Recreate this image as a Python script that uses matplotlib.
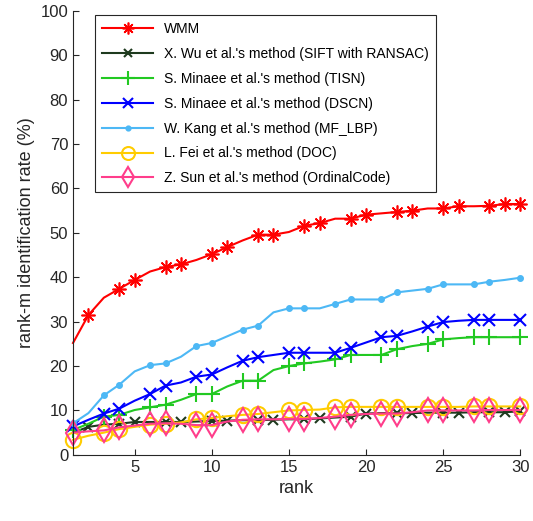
import numpy as np
import matplotlib
matplotlib.use("Agg")
from matplotlib import pyplot as plt
from matplotlib.lines import Line2D

plt.rcParams['font.family'] = ['Liberation Sans', 'DejaVu Sans']

rank = np.arange(1, 31)

wmm = [25.2, 31.5, 35.4, 37.4, 39.4, 41.3, 42.3, 42.9, 43.9, 45.2,
       46.8, 48.3, 49.6, 49.6, 50.2, 51.6, 52.2, 53.2, 53.2, 54.1,
       54.4, 54.7, 55.0, 55.5, 55.5, 56.0, 56.0, 56.1, 56.5, 56.5]
wu = [5.0, 6.3, 6.8, 7.0, 7.4, 7.4, 7.4, 7.4, 7.5, 7.6,
      7.7, 7.8, 7.8, 7.9, 8.0, 8.0, 8.2, 8.4, 8.6, 9.3,
      9.4, 9.4, 9.4, 9.5, 9.5, 9.5, 9.6, 9.6, 9.6, 9.8]
tisn = [5.6, 7.0, 8.6, 9.0, 10.1, 10.7, 11.3, 12.4, 13.7, 13.7,
        15.4, 16.7, 16.7, 19.1, 20.0, 20.6, 21.0, 21.5, 22.5, 22.5,
        22.5, 23.8, 24.5, 25.0, 26.0, 26.3, 26.5, 26.5, 26.5, 26.5]
dscn = [6.4, 7.9, 9.3, 10.4, 12.2, 13.7, 15.6, 16.3, 17.6, 18.1,
        19.7, 21.2, 22.0, 22.5, 23.0, 23.0, 23.0, 23.0, 24.1, 25.3,
        26.5, 26.8, 27.8, 28.9, 29.9, 30.2, 30.4, 30.4, 30.4, 30.4]
mf_lbp = [7.1, 9.4, 13.4, 15.8, 18.8, 20.2, 20.6, 22.1, 24.5, 25.2,
          26.7, 28.2, 29.1, 32.1, 33.0, 33.0, 33.0, 34.0, 35.0, 35.0,
          35.0, 36.6, 37.0, 37.4, 38.4, 38.4, 38.4, 39.0, 39.4, 39.9]
doc = [3.4, 4.3, 5.0, 5.8, 6.3, 6.8, 7.0, 7.3, 8.0, 8.3,
       8.7, 9.0, 9.2, 9.6, 10.0, 10.1, 10.2, 10.7, 10.8, 10.8,
       10.8, 10.8, 10.8, 10.8, 10.8, 10.8, 10.9, 10.9, 10.9, 10.9]
ordinal = [5.0, 5.3, 5.5, 6.2, 6.6, 7.0, 7.1, 7.0, 6.7, 6.7,
           7.5, 7.9, 8.0, 8.0, 8.1, 8.1, 8.3, 8.6, 9.0, 9.2,
           9.3, 9.3, 9.6, 10.0, 10.0, 10.0, 10.0, 10.1, 10.1, 10.1]

labels = ["WMM",
          "X. Wu et al.'s method (SIFT with RANSAC)",
          "S. Minaee et al.'s method (TISN)",
          "S. Minaee et al.'s method (DSCN)",
          "W. Kang et al.'s method (MF_LBP)",
          "L. Fei et al.'s method (DOC)",
          "Z. Sun et al.'s method (OrdinalCode)"]

# ranks where a marker is drawn
mk_a = [2, 4, 5, 7, 8, 10, 11, 13, 14, 16, 17, 19, 20, 22, 23, 25, 26, 28, 29, 30]
mk_b = [1, 3, 4, 6, 7, 9, 10, 12, 13, 15, 16, 18, 19, 21, 22, 24, 25, 27, 28, 30]

fig = plt.figure(figsize=(5.33, 5.21), dpi=100)
ax = fig.add_axes([0.137, 0.127, 0.839, 0.852])

asterisk = (8, 2, 0)
series = [
    (wmm, '#ff0000', asterisk, 10, 1.2, mk_a, 'none'),
    (wu, '#1e3a1e', 'x', 7, 1.5, mk_a, 'none'),
    (tisn, '#22c922', '+', 12, 1.5, mk_b, 'none'),
    (dscn, '#0000ff', 'x', 9, 1.5, mk_b, 'none'),
    (mf_lbp, '#4db8f5', '.', 7, 1.5, mk_b, None),
    (doc, '#ffcc00', 'o', 11, 1.5, mk_b, 'none'),
    (ordinal, '#ff3d8b', 'd', 12, 1.5, mk_b, 'none'),
]
handles = []
for (vals, c, m, ms, mew, mk, fc), lab in zip(series, labels):
    idx = [r - 1 for r in mk]
    kw = dict(color=c, marker=m, markersize=ms, lw=1.5, markeredgewidth=mew)
    if fc is not None:
        kw['markerfacecolor'] = fc
    ax.plot(rank, vals, markevery=idx, clip_on=False, **kw)
    kw['markersize'] = ms * 0.85
    handles.append(Line2D([], [], label=lab, **kw))

ax.set_xlim(1, 30)
ax.set_ylim(0, 100)
ax.set_xticks([5, 10, 15, 20, 25, 30])
ax.set_yticks(np.arange(0, 101, 10))
ax.spines['top'].set_visible(False)
ax.spines['right'].set_visible(False)
for s in ['left', 'bottom']:
    ax.spines[s].set_color('#262626')
ax.tick_params(direction='in', length=4, labelsize=12, colors='#262626')
ax.set_xlabel('rank', fontsize=13, color='#262626')
ax.set_ylabel('rank-m identification rate (%)', fontsize=13, color='#262626')

leg = ax.legend(handles=handles, loc='upper left', bbox_to_anchor=(0.049, 0.99),
                fontsize=10, handlelength=3.7, borderaxespad=0, fancybox=False,
                numpoints=1, edgecolor='#262626', framealpha=1,
                labelspacing=0.78, borderpad=0.5)
leg.get_frame().set_linewidth(0.8)

fig.savefig('out.png', dpi=100)
